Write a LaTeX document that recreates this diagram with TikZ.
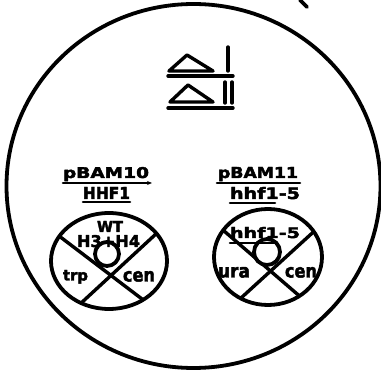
\documentclass[tikz,border=0pt]{standalone}
\usepackage{fontspec}
\setmainfont{DejaVu Sans Bold}[FakeBold=2.5]
\usetikzlibrary{arrows.meta}
\newcommand{\fitt}[3]{\resizebox{#1pt}{#2pt}{#3}}
\begin{document}
\begin{tikzpicture}[x=1pt,y=-1pt,line cap=round,line join=round,
  heavy/.style={line width=3.8pt},
  medium/.style={line width=3.4pt},
  uline/.style={line width=2.6pt},
  lbl/.style={inner sep=0pt,outer sep=0pt,anchor=north west}]
\useasboundingbox (0,0) rectangle (381,371);
% outer dish
\draw[heavy] (193.5,186) ellipse [x radius=187,y radius=182];
\coordinate (t1) at (300,0); \coordinate (t2) at (307,7);
\draw[heavy] (t1) -- (t2);
% deletion symbols
\draw[medium] (169,71) -- (187,55) -- (213,71) -- cycle;
\draw[medium] (228,47) -- (228,71);
\draw[medium] (168,76) -- (233,76);
\draw[medium] (170,102) -- (188,85) -- (213,102) -- cycle;
\draw[medium] (225,82) -- (225,103);
\draw[medium] (232,82) -- (232,103);
\draw[medium] (168,108) -- (233,108);
% left plasmid labels
\node[lbl] (pb10) at (63,167) {\fitt{86}{11}{pBAM10}};
\coordinate (a1) at (63,183); \coordinate (a2) at (152,183);
\draw[uline,-{Stealth[length=5pt,width=4pt]}] (a1) -- (a2);
\node[lbl] (hhf) at (83,187) {\fitt{47}{12}{HHF1}};
\draw[uline] (hhf.south west) ++(0,3) -- ++(47,0);
% right plasmid labels
\node[lbl] (pb11) at (218,167) {\fitt{80}{11}{pBAM11}};
\coordinate (b1) at (217,183); \coordinate (b2) at (300,183);
\draw[uline] (b1) -- (b2);
\node[lbl] (hhfm) at (230,187) {\fitt{70}{12}{hhf1-5}};
\coordinate (u1) at (230,203); \coordinate (u2) at (275,203);
\draw[uline] (u1) -- (u2);
% left plasmid
\coordinate (L) at (109,261);
\begin{scope}
  \clip (L) ellipse [x radius=58,y radius=48];
  \draw[medium] (13,201) -- (192,337);
  \draw[medium] (196,197) -- (40,341);
\end{scope}
\draw[heavy] (L) ellipse [x radius=58,y radius=48];
\node[draw,circle,heavy,fill=white,minimum size=24pt,inner sep=0pt] (hubL) at (107,254) {};
\node[lbl] (wt) at (97,221) {\fitt{26}{11}{WT}};
\node[lbl] (h34) at (77,235) {\fitt{63}{12}{H3+H4}};
\node[lbl] (trp) at (63,270) {\fitt{25}{10.5}{trp}};
\node[lbl] (cenL) at (123,271) {\fitt{32}{10.5}{cen}};
% right plasmid
\coordinate (R) at (268,257);
\begin{scope}
  \clip (R) ellipse [x radius=54,y radius=48];
  \draw[medium] (180,193) -- (347,337);
  \draw[medium] (355,194) -- (195,340);
\end{scope}
\draw[heavy] (R) ellipse [x radius=54,y radius=48];
\node[draw,circle,heavy,fill=white,minimum size=26pt,inner sep=0pt] (hubR) at (267,252) {};
\node[lbl] (hin) at (230,227) {\fitt{70}{11}{hhf1-5}};
\coordinate (v1) at (230,243); \coordinate (v2) at (275,243);
\draw[uline] (v1) -- (v2);
\node[lbl] (ura) at (218,267) {\fitt{32}{10.5}{ura}};
\node[lbl] (cenR) at (285,267) {\fitt{32}{10.5}{cen}};
\end{tikzpicture}
\end{document}
